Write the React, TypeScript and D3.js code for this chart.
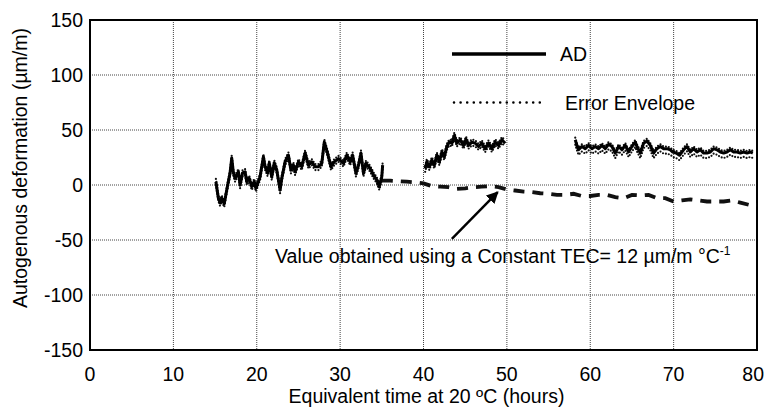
import React from 'react';
import * as d3 from 'd3';

const xTicks = [0, 10, 20, 30, 40, 50, 60, 70, 80];
const yTicks = [150, 100, 50, 0, -50, -100, -150];

// AD segment 1 (hours, µm/m)
const seg1T = [15.1, 15.4, 15.6, 15.8, 16.1, 16.4, 16.8, 17.0, 17.2, 17.4, 17.8, 18.0, 18.3, 18.6, 18.8, 19.1, 19.4, 19.7, 19.9, 20.4, 20.8, 21.0, 21.3, 21.5, 21.8, 22.1, 22.4, 22.8, 23.0, 23.4, 23.8, 24.1, 24.4, 24.6, 25.0, 25.4, 25.8, 26.2, 26.6, 27.0, 27.4, 27.8, 28.1, 28.5, 28.9, 29.3, 29.8, 30.4, 30.8, 31.2, 31.5, 31.9, 32.2, 32.5, 32.8, 33.1, 33.6, 34.0, 34.4, 34.7, 35.0, 35.1];
const seg1V = [3, -12, -16, -12, -17, -4.5, 11, 24.5, 11, 6, 12, 0, 11, 12, 3, 6, -1.5, 3, -3, 7.5, 25.7, 16.6, 11, 20, 7.5, 20, 13.6, -4.5, 6, 21, 27, 13.6, 18, 12, 21, 16.6, 29, 18, 21, 16.6, 16.6, 19.7, 39, 28.8, 16.6, 21, 24, 19.7, 27, 21, 27, 10.6, 18, 28.8, 10.6, 19.7, 15, 9, 4.5, -1.5, 7.5, 18];

// AD segment 2
const seg2T = [40.2, 40.4, 40.7, 41.0, 41.3, 41.6, 41.9, 42.2, 42.5, 42.8, 43.1, 43.4, 43.7, 44.0, 44.4, 44.8, 45.1, 45.4, 45.8, 46.2, 46.6, 47.0, 47.4, 47.8, 48.2, 48.6, 49.0, 49.4, 49.8];
const seg2V = [15, 21, 16.6, 22.7, 18, 27, 21, 30, 25.7, 35, 39, 38, 45, 38, 41, 36, 41.5, 36, 39, 38, 35, 38, 33, 38, 33, 39, 36, 41, 38];

// AD segment 3
const seg3T = [58.2, 58.4, 58.6, 59.0, 59.4, 59.8, 60.2, 60.6, 61.0, 61.4, 61.8, 62.2, 62.6, 63.0, 63.4, 63.8, 64.2, 64.6, 65.0, 65.4, 65.6, 66.0, 66.4, 66.8, 67.2, 67.6, 68.0, 68.4, 68.8, 69.2, 69.6, 69.9, 70.3, 70.7, 71.2, 71.6, 72.0, 72.4, 72.8, 73.2, 73.6, 74.0, 74.4, 74.8, 75.2, 75.6, 76.0, 76.4, 76.8, 77.2, 77.6, 78.0, 78.4, 78.8, 79.2, 79.5];
const seg3V = [41, 36, 32, 35, 33, 36, 33, 35, 33, 36, 33, 37, 35, 29, 35, 32, 36, 30, 35, 39, 35, 29, 38, 40, 36, 29, 33, 35, 33, 33, 32, 30, 29, 27, 32, 35, 30, 33, 30, 32, 29, 29, 30, 33, 32, 30, 29, 30, 32, 30, 30, 29, 30, 29, 30, 29];

// Error envelope offsets per segment (µm/m)
const envUpper = [2.5, 2.5, 2];
const envLower = [-3, -3, -4.5];

// Constant TEC curve
const tecT = [35, 36, 37, 38, 39, 40, 41, 42, 43, 44, 45, 46, 47, 48, 49, 50, 51, 52, 53, 54, 55, 56, 57, 58, 59, 60, 61, 62, 63, 64, 65, 66, 67, 68, 69, 70, 71, 72, 73, 74, 75, 76, 77, 78, 79, 80];
const tecV = [4, 4, 3.5, 3, 2.5, 1.5, -1, -1.5, -2, -3.5, -3, -2, -1.5, -1, -2, -4, -5, -6, -6.5, -7.5, -8, -9, -9, -8, -10, -10, -9, -9, -11, -12, -9, -9.5, -9, -12, -12, -15, -14, -13, -14, -15, -15, -15, -14, -16, -18, -18];

const FONT = "'Liberation Sans', Arial, Helvetica, sans-serif";

export default function App() {
  const W = 765, H = 415;
  const x = d3.scaleLinear().domain([0, 80]).range([90, 757]);
  const y = d3.scaleLinear().domain([-150, 150]).range([350, 20]);
  const line = d3.line<[number, number]>().x(d => x(d[0])).y(d => y(d[1]));

  const segs = [[seg1T, seg1V], [seg2T, seg2V], [seg3T, seg3V]];
  const tec = tecT.map((t, i) => [t, tecV[i]] as [number, number]);

  const arrowTip = [48.9, -6.4];
  const arrowStart = [43.4, -49];

  return (
    <svg width={W} height={H} style={{ position: 'absolute', left: 0, top: 0, background: '#fff' }} fontFamily={FONT}>
      <defs>
        <marker id="ah" viewBox="0 0 10 10" refX="9" refY="5" markerWidth="5" markerHeight="5" orient="auto">
          <path d="M0,0 L10,5 L0,10 z" fill="#000" />
        </marker>
      </defs>
      <rect width={W} height={H} fill="#fff" />
      {/* grid */}
      {xTicks.slice(1, -1).map(t => (
        <line key={'gx' + t} x1={x(t)} x2={x(t)} y1={y(150)} y2={y(-150)} stroke="#444" strokeWidth={1} strokeDasharray="1,1" />
      ))}
      {yTicks.slice(1, -1).map(v => (
        <line key={'gy' + v} x1={x(0)} x2={x(80)} y1={y(v)} y2={y(v)} stroke="#444" strokeWidth={1} strokeDasharray="1,1" />
      ))}
      {/* frame */}
      <rect x={x(0)} y={y(150)} width={x(80) - x(0)} height={y(-150) - y(150)} fill="none" stroke="#000" strokeWidth={2} />

      {/* TEC dashed */}
      <path d={line(tec) || ''} fill="none" stroke="#111" strokeWidth={3.8} strokeDasharray="11,8" />

      {/* AD and envelope */}
      {segs.map((s, k) => {
        const pts = s[0].map((t, i) => [t, s[1][i]] as [number, number]);
        const up = pts.map(p => [p[0], p[1] + envUpper[k]] as [number, number]);
        const lo = pts.map(p => [p[0], p[1] + envLower[k]] as [number, number]);
        return (
          <g key={'s' + k}>
            <path d={line(up) || ''} fill="none" stroke="#111" strokeWidth={2.2} strokeDasharray="0,3" strokeLinecap="round" />
            <path d={line(lo) || ''} fill="none" stroke="#111" strokeWidth={2.2} strokeDasharray="0,3" strokeLinecap="round" />
            <path d={line(pts) || ''} fill="none" stroke="#000" strokeWidth={3} strokeLinejoin="round" />
          </g>
        );
      })}

      {/* legend */}
      <line x1={452} x2={546} y1={54} y2={54} stroke="#000" strokeWidth={3.5} />
      <text x={560} y={61} fontSize={19.5} fill="#000">AD</text>
      <line x1={454} x2={546} y1={102.5} y2={102.5} stroke="#000" strokeWidth={2.6} strokeDasharray="0,6.6" strokeLinecap="round" />
      <text x={565} y={109.5} fontSize={19.5} fill="#000">Error Envelope</text>

      {/* annotation */}
      <line x1={x(arrowStart[0])} y1={y(arrowStart[1])} x2={x(arrowTip[0])} y2={y(arrowTip[1])} stroke="#000" strokeWidth={2.4} markerEnd="url(#ah)" />
      <text x={275} y={263} fontSize={19.5} fill="#000">
        Value obtained using a Constant TEC= 12 µm/m °C<tspan fontSize={12} dy={-8}>-1</tspan>
      </text>

      {/* ticks */}
      {yTicks.map(v => (
        <text key={'yl' + v} x={83} y={y(v) + 7} fontSize={19.5} textAnchor="end" fill="#000">{v}</text>
      ))}
      {xTicks.map((t, i) => (
        <text key={'xl' + t} x={i === xTicks.length - 1 ? 764 : x(t)} y={381} fontSize={19.5}
          textAnchor={i === xTicks.length - 1 ? 'end' : 'middle'} fill="#000">{t}</text>
      ))}
      <text x={(x(0) + x(80)) / 2 + 3} y={403} fontSize={19.5} textAnchor="middle" fill="#000">Equivalent time at 20 ºC (hours)</text>
      <text transform={`translate(27,168) rotate(-90)`} fontSize={19.5} textAnchor="middle" fill="#000">Autogenous deformation (µm/m)</text>
    </svg>
  );
}
